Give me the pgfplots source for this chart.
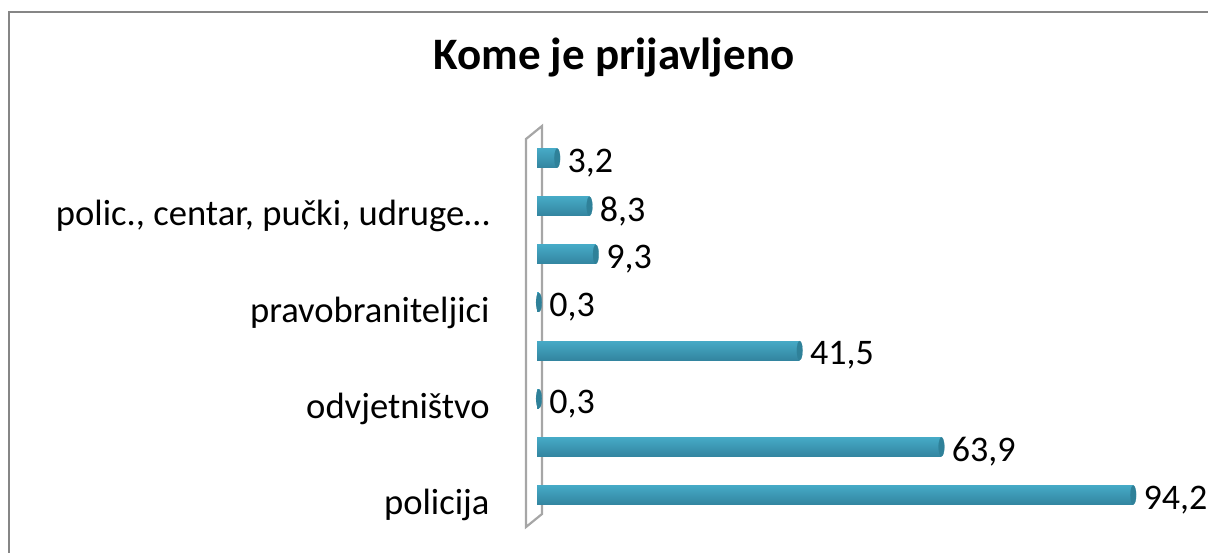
\documentclass[border=0pt]{standalone}
\usepackage{pgfplots}
\usepackage{pgfplotstable}
\pgfplotsset{compat=1.18}
\usepackage{fontspec}
\setmainfont{Carlito}
\definecolor{bartop}{HTML}{46AAC6}
\definecolor{barmid}{HTML}{5BC8E5}
\definecolor{barbot}{HTML}{3385A0}
\definecolor{capc}{HTML}{2F8199}
\definecolor{framec}{HTML}{868686}
\definecolor{wallc}{HTML}{A6A6A6}

\pgfplotstableread{
idx val
0 94.2
1 63.9
2 0.3
3 41.5
4 0.3
5 9.3
6 8.3
7 3.2
}\datatable

\begin{document}
\begin{tikzpicture}
\useasboundingbox (0,0) rectangle (604pt,276pt);
\draw[framec, line width=1.3pt] (4.5pt,-2pt) -- (4.5pt,270pt) -- (610pt,270pt);
\node[anchor=base, font=\bfseries\fontsize{22.5}{26}\selectfont] at (307pt,241pt) {Kome je prijavljeno};
\draw[wallc, line width=1.1pt] (263pt,12.5pt) -- (263pt,206.5pt) -- (271pt,213pt) -- (271pt,19pt) -- cycle;
\begin{axis}[
  at={(268.5pt,16.5pt)}, anchor=south west,
  scale only axis, width=316.5pt, height=192.5pt,
  xmin=0, xmax=100, ymin=-0.5, ymax=7.5,
  axis line style={draw=none},
  xtick=\empty,
  ytick={0,2,4,6},
  yticklabels={policija, odvjetništvo, pravobraniteljici, {polic., centar, pučki, udruge…}},
  major tick length=0pt,
  yticklabel style={anchor=east, inner sep=0pt, xshift=-23.5pt, yshift=-5pt, font=\fontsize{18.3}{21}\selectfont},
  clip=false,
]
\pgfplotsinvokeforeach{0,...,7}{
\addplot[xbar, bar width=9.5pt, bar shift=0pt, draw=none,
  top color=bartop, middle color=barmid, bottom color=barbot,
  restrict y to domain=#1:#1,
  point meta=x,
  nodes near coords={\pgfmathprintnumber[fixed, fixed zerofill, precision=1, use comma, assume math mode=true]{\pgfplotspointmeta}},
  nodes near coords style={anchor=west, inner sep=1pt, xshift=4pt, yshift=-2.5pt, font=\fontsize{18}{22}\selectfont, text=black}
] table[x=val, y=idx]{\datatable};
}
\addplot[only marks, mark=*, mark size=4.75pt, mark options={xscale=0.3, fill=capc, draw=capc, line width=0.1pt}] table[x=val, y=idx]{\datatable};
\end{axis}
\end{tikzpicture}
\end{document}
